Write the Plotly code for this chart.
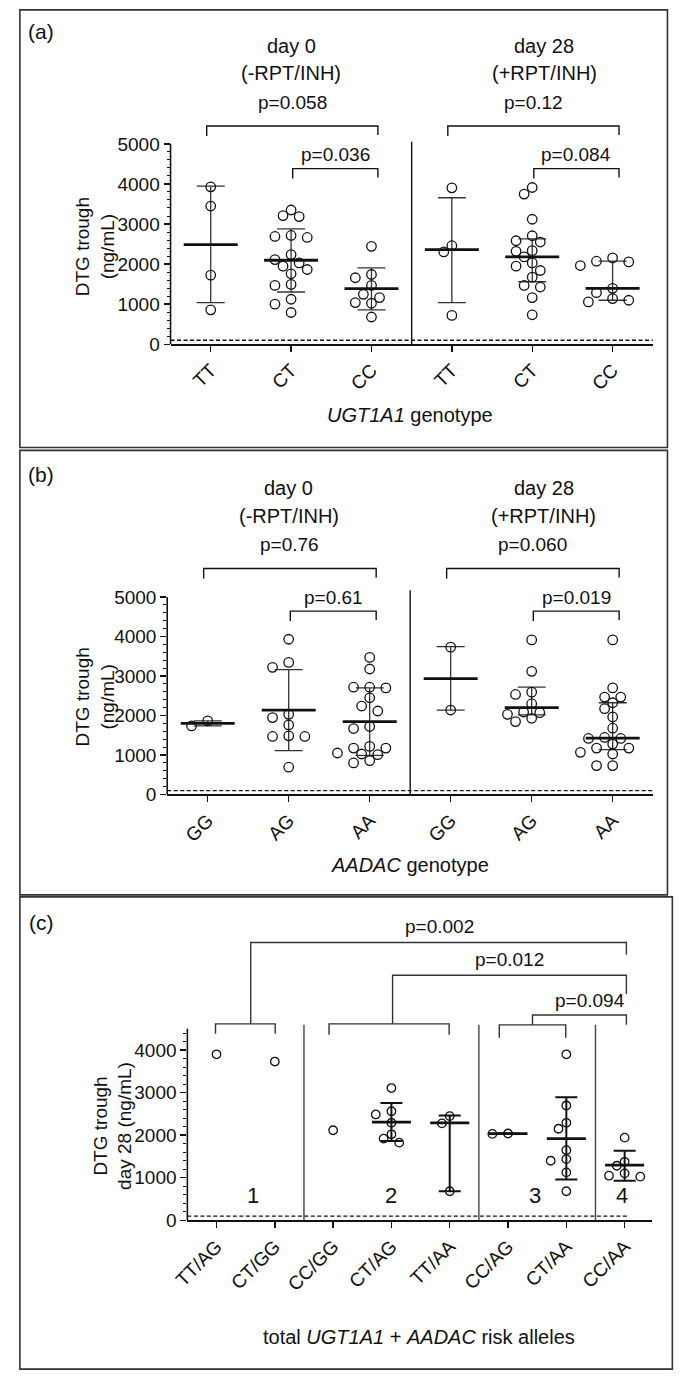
import plotly.graph_objects as go

W, H = 688, 1396
FONT = "Liberation Sans, Arial, Helvetica, sans-serif"
INK = "#111111"

# ---------------- data (ng/mL) ----------------
# (a) UGT1A1 genotype, day 0 and day 28
ugt_labels = ["TT", "CT", "CC", "TT", "CT", "CC"]
ugt_d0_TT = [3928, 3449, 1725, 859]
ugt_d0_CT = [3350, 3210, 3185, 2715, 2690, 2665, 2237, 2113, 2030, 1948, 1865, 1758, 1494, 1469, 1123, 1000, 793]
ugt_d0_CC = [2443, 1741, 1659, 1469, 1246, 1164, 1040, 1024, 680]
ugt_d28_TT = [3903, 2459, 2303, 720]
ugt_d28_CT = [3911, 3746, 3119, 2707, 2583, 2550, 2336, 2319, 2179, 2030, 1948, 1840, 1675, 1469, 1428, 1164, 735]
ugt_d28_CC = [2154, 2072, 2055, 1964, 1395, 1288, 1139, 1098, 1057]
ugt_center = [2484, 2096, 1387, 2360, 2179, 1395]
ugt_low = [1040, 1304, 859, 1040, 1560, 1098]
ugt_high = [3944, 2880, 1907, 3656, 2632, 2072]
ugt_pvals = ["p=0.058", "p=0.036", "p=0.12", "p=0.084"]

# (b) AADAC genotype, day 0 and day 28
aadac_labels = ["GG", "AG", "AA", "GG", "AG", "AA"]
aadac_d0_GG = [1863, 1737]
aadac_d0_AG = [3932, 3345, 3220, 2030, 1947, 1763, 1486, 1470, 1470, 691]
aadac_d0_AA = [3471, 3178, 2717, 2700, 2717, 2449, 2240, 2114, 1721, 1670, 1218, 1176, 1176, 1051, 1026, 1009, 858, 799]
aadac_d28_GG = [3731, 2139]
aadac_d28_AG = [3915, 3119, 2592, 2533, 2299, 2089, 2072, 2030, 1930, 1846]
aadac_d28_AA = [3915, 2700, 2466, 2466, 2324, 2173, 1964, 1679, 1444, 1419, 1419, 1277, 1176, 1176, 1067, 1026, 732, 732]
aadac_center = [1800, 2139, 1846, 2935, 2198, 1428]
aadac_low = [1737, 1109, 990, 2139, 2014, 1134]
aadac_high = [1863, 3161, 2700, 3747, 2717, 2324]
aadac_pvals = ["p=0.76", "p=0.61", "p=0.060", "p=0.019"]

# (c) combined genotype, day 28
combo_labels = ["TT/AG", "CT/GG", "CC/GG", "CT/AG", "TT/AA", "CC/AG", "CT/AA", "CC/AA"]
combo_TT_AG = [3900]
combo_CT_GG = [3730]
combo_CC_GG = [2116]
combo_CT_AG = [3107, 2564, 2487, 2291, 2021, 1919, 1825]
combo_TT_AA = [2448, 2277, 683]
combo_CC_AG = [2040, 2030]
combo_CT_AA = [3900, 2697, 2291, 2151, 1648, 1438, 1399, 1126, 683]
combo_CC_AA = [1942, 1375, 1282, 1103, 1049, 1026]
combo_center = [None, None, None, 2308, 2291, 2035, 1919, 1298]
combo_low = [None, None, None, 1865, 683, 2030, 956, 932]
combo_high = [None, None, None, 2758, 2464, 2040, 2890, 1632]
risk_groups = ["1", "2", "3", "4"]
combo_pvals = ["p=0.002", "p=0.012", "p=0.094"]

lloq = 100

ugt_groups = [ugt_d0_TT, ugt_d0_CT, ugt_d0_CC, ugt_d28_TT, ugt_d28_CT, ugt_d28_CC]
aadac_groups = [aadac_d0_GG, aadac_d0_AG, aadac_d0_AA, aadac_d28_GG, aadac_d28_AG, aadac_d28_AA]
combo_groups = [combo_TT_AG, combo_CT_GG, combo_CC_GG, combo_CT_AG, combo_TT_AA,
                combo_CC_AG, combo_CT_AA, combo_CC_AA]

# ---------------- geometry (pixels) ----------------
GEOM = {
    "a": dict(xl=159.0, xr=652.0, xrange=(-0.5, 5.5), y0=347.0, ppu=0.0404, top=12.0, ytick=5000),
    "b": dict(xl=155.6, xr=652.4, xrange=(-0.5, 5.5), y0=800.8, ppu=0.0398, top=456.0, ytick=5000),
    "c": dict(xl=176.2, xr=651.0, xrange=(-0.5, 7.466), y0=1230.0, ppu=0.0429, top=907.0, ytick=4000),
}
AXES = {"a": ("x", "y"), "b": ("x2", "y2"), "c": ("x3", "y3")}

F_TICK = 19
F_P = 19
F_TXT = 20
F_LAB = 21


def v(panel, px):
    g = GEOM[panel]
    return (g["y0"] - px) / g["ppu"]


def ppc(panel):
    g = GEOM[panel]
    return (g["xr"] - g["xl"]) / (g["xrange"][1] - g["xrange"][0])


def swarm(values, ppu_y, ppc_x, step_px, dmin_px):
    order = sorted(range(len(values)), key=lambda i: -values[i])
    cands = [0.0]
    for k in range(1, 14):
        cands += [-k * step_px / 2.0, k * step_px / 2.0]
    placed, offs = [], [0.0] * len(values)
    for i in order:
        y = values[i] * ppu_y
        chosen = cands[-1]
        for c in cands:
            if all((c - px) ** 2 + (y - py) ** 2 >= dmin_px ** 2 for px, py in placed):
                chosen = c
                break
        placed.append((chosen, y))
        offs[i] = chosen / ppc_x
    return offs


fig = go.Figure()


def add_points(panel, groups, msize, step, dmin, lw):
    xa, ya = AXES[panel]
    for pos, vals in enumerate(groups):
        offs = swarm(vals, GEOM[panel]["ppu"], ppc(panel), step, dmin)
        fig.add_trace(go.Scatter(
            x=[pos + o for o in offs], y=vals, mode="markers",
            marker=dict(symbol="circle-open", size=msize, color=INK, line=dict(width=lw)),
            xaxis=xa, yaxis=ya, showlegend=False, hoverinfo="skip"))


def add_summary(panel, center, low, high, bar_px, cap_half, thick, bar_w, col):
    xa, ya = AXES[panel]
    xs, cs, up, dn = [], [], [], []
    for i, (c, lo, hi) in enumerate(zip(center, low, high)):
        if c is None:
            continue
        xs.append(i)
        cs.append(c)
        up.append(hi - c)
        dn.append(c - lo)
    fig.add_trace(go.Scatter(
        x=xs, y=cs, mode="markers",
        marker=dict(symbol="line-ew", size=bar_px / 1.4, color=INK,
                    line=dict(width=bar_w, color=INK)),
        error_y=dict(type="data", symmetric=False, array=up, arrayminus=dn,
                     width=cap_half, thickness=thick, color=col),
        xaxis=xa, yaxis=ya, showlegend=False, hoverinfo="skip"))


add_summary("a", ugt_center, ugt_low, ugt_high, 54, 14, 1.3, 2.8, "#333333")
add_summary("b", aadac_center, aadac_low, aadac_high, 54, 14, 1.3, 2.8, "#333333")
add_summary("c", combo_center, combo_low, combo_high, 39, 11, 2.0, 2.8, INK)
add_points("a", ugt_groups, 9.5, 16.5, 9.8, 1.3)
add_points("b", aadac_groups, 9.5, 16.5, 9.8, 1.3)
add_points("c", combo_groups, 8.5, 16.0, 8.8, 1.3)

# ---------------- axes ----------------
axis_font = dict(family=FONT, size=F_TICK, color=INK)
cat_labels = {"a": ugt_labels, "b": aadac_labels, "c": combo_labels}
layout_axes = {}
for i, key in enumerate("abc"):
    g = GEOM[key]
    sfx = "" if i == 0 else str(i + 1)
    ytop = (g["y0"] - g["top"]) / g["ppu"]
    majors = list(range(0, g["ytick"] + 1, 1000))
    minor_top = 4800 if key != "c" else 4400
    minors = [m for m in range(200, minor_top + 1, 200) if m % 1000]
    layout_axes["xaxis" + sfx] = dict(
        domain=[g["xl"] / W, g["xr"] / W], range=list(g["xrange"]), anchor="y" + sfx,
        tickmode="array", tickvals=list(range(len(cat_labels[key]))), ticktext=cat_labels[key],
        tickangle=-45, ticks="outside", ticklen=6, tickwidth=1.4, tickcolor=INK,
        showline=True, linewidth=1.6, linecolor=INK, showgrid=False, zeroline=False,
        tickfont=axis_font, fixedrange=True)
    layout_axes["yaxis" + sfx] = dict(
        domain=[1 - g["y0"] / H, 1 - g["top"] / H], range=[0, ytop], anchor="x" + sfx,
        tickmode="array", tickvals=majors, ticktext=[str(m) for m in majors],
        ticks="outside", ticklen=6, tickwidth=1.4, tickcolor=INK,
        minor=dict(tickvals=minors, ticks="outside", ticklen=3, tickwidth=1, tickcolor=INK),
        showline=False, showgrid=False, zeroline=False, tickfont=axis_font, fixedrange=True)

shapes = []


def line(xref, yref, x0, y0, x1, y1, w=1.4, color=INK, dash=None):
    d = dict(type="line", xref=xref, yref=yref, x0=x0, y0=y0, x1=x1, y1=y1,
             line=dict(width=w, color=color))
    if dash:
        d["line"]["dash"] = dash
    shapes.append(d)


def path(xref, yref, pts, w=1.4, color=INK):
    p = "M " + " L ".join(f"{x},{y}" for x, y in pts)
    shapes.append(dict(type="path", xref=xref, yref=yref, path=p, line=dict(width=w, color=color)))


# panel boxes
for (x0, x1, t, b) in [(5, 667, 10, 451), (5, 667, 454, 902), (5, 672, 904, 1380)]:
    shapes.append(dict(type="rect", xref="paper", yref="paper", x0=x0 / W, x1=x1 / W,
                       y0=1 - b / H, y1=1 - t / H, line=dict(width=1.6, color="#333333")))

annotations = []


def text(s, x, y, size=F_P, xref="paper", yref="paper", angle=0):
    annotations.append(dict(text=s, x=x, y=y, xref=xref, yref=yref, showarrow=False,
                            textangle=angle, xanchor="center", yanchor="middle",
                            font=dict(family=FONT, size=size, color=INK)))


# panels (a) and (b)
for key, pv, title, dy, sep_top in [("a", ugt_pvals, "<i>UGT1A1</i> genotype", 0, 5050),
                                    ("b", aadac_pvals, "<i>AADAC</i> genotype", 446, 5170)]:
    xa, ya = AXES[key]
    g = GEOM[key]
    # y-axis line, separator, LLOQ dashed line
    line(xa + " domain", ya, 0, 0, 0, g["ytick"], w=1.6)
    line(xa, ya, 2.5, 0, 2.5, sep_top, w=1.4)
    line(xa + " domain", ya, 0, lloq, 1, lloq, w=1.3, dash="4px,2.5px")
    # brackets
    for (i0, i1, top_px, lab, lab_px) in [(0, 2, 127, pv[0], 103), (1, 2, 170, pv[1], 156),
                                          (3, 5, 127, pv[2], 103), (4, 5, 170, pv[3], 156)]:
        tp = top_px + dy
        xl = i0 - (0.05 if i1 - i0 == 2 else -0.02)
        xr = i1 + 0.08
        path(xa, ya, [(xl, v(key, tp + 10)), (xl, v(key, tp)), (xr, v(key, tp)), (xr, v(key, tp + 9))])
        text(lab, (xl + xr) / 2, 1 - (lab_px + dy) / H, size=F_P, xref=xa)
    text("day 0", 1.0, 1 - (46 + dy) / H, size=F_TXT, xref=xa)
    text("(-RPT/INH)", 1.0, 1 - (74 + dy) / H, size=F_TXT, xref=xa)
    text("day 28", 4.15, 1 - (46 + dy) / H, size=F_TXT, xref=xa)
    text("(+RPT/INH)", 4.15, 1 - (74 + dy) / H, size=F_TXT, xref=xa)
    text("(" + key + ")", 27 / W, 1 - (32 + dy) / H, size=F_LAB)
    text("DTG trough<br>(ng/mL)", 82 / W, 1 - (g["y0"] - 98) / H, size=F_TICK, angle=-90)
    text(title, 404 / W, 1 - (g["y0"] + 71) / H, size=F_TXT)

# panel (c)
xa, ya = "x3", "y3"
line(xa + " domain", ya, 0, 0, 0, 4500, w=1.6)
for s in (1.5, 4.5, 6.5):
    line(xa, ya, s, 0, s, v("c", 1033), w=1.4, color="#444444")
line(xa + " domain", ya, 0, lloq, (7.08 + 0.5) / 7.966, lloq, w=1.3, dash="4px,2.5px")
cc = "#333333"
R = 7.03
path(xa, ya, [(-0.017, v("c", 1042)), (-0.017, v("c", 1032)), (1.007, v("c", 1032)), (1.007, v("c", 1042))], color=cc)
path(xa, ya, [(1.93, v("c", 1043)), (1.93, v("c", 1032)), (3.99, v("c", 1032)), (3.99, v("c", 1043))], color=cc)
path(xa, ya, [(4.85, v("c", 1046)), (4.85, v("c", 1033)), (5.99, v("c", 1033)), (5.99, v("c", 1046))], color=cc)
path(xa, ya, [(0.587, v("c", 1032)), (0.587, v("c", 950)), (R, v("c", 950)), (R, v("c", 962))], color=cc)
path(xa, ya, [(3.02, v("c", 1032)), (3.02, v("c", 983)), (R, v("c", 983)), (R, v("c", 1002))], color=cc)
path(xa, ya, [(5.42, v("c", 1033)), (5.42, v("c", 1023)), (R, v("c", 1023)), (R, v("c", 1033))], color=cc)
text(combo_pvals[0], 3.83, 1 - 934 / H, size=F_P, xref=xa)
text(combo_pvals[1], 5.02, 1 - 967 / H, size=F_P, xref=xa)
text(combo_pvals[2], 6.41, 1 - 1008 / H, size=F_P, xref=xa)
for lab, pos in zip(risk_groups, [0.62, 3.0, 5.47, 6.95]):
    text(lab, pos, 1 - 1205 / H, size=F_LAB + 1, xref=xa)
text("(c)", 27 / W, 1 - 930 / H, size=F_LAB)
text("DTG trough<br>day 28 (ng/mL)", 100 / W, 1 - 1135 / H, size=F_TICK, angle=-90)
text("total <i>UGT1A1</i> + <i>AADAC</i> risk alleles", 413 / W, 1 - 1348 / H, size=F_TXT)

fig.update_layout(
    width=W, height=H, margin=dict(l=0, r=0, t=0, b=0),
    paper_bgcolor="white", plot_bgcolor="rgba(0,0,0,0)",
    showlegend=False, shapes=shapes, annotations=annotations,
    font=dict(family=FONT, color=INK), **layout_axes)

fig.write_html("out.html", config={"displayModeBar": False, "staticPlot": True},
               post_script="document.body.style.margin='0';document.body.style.overflow='hidden';")
